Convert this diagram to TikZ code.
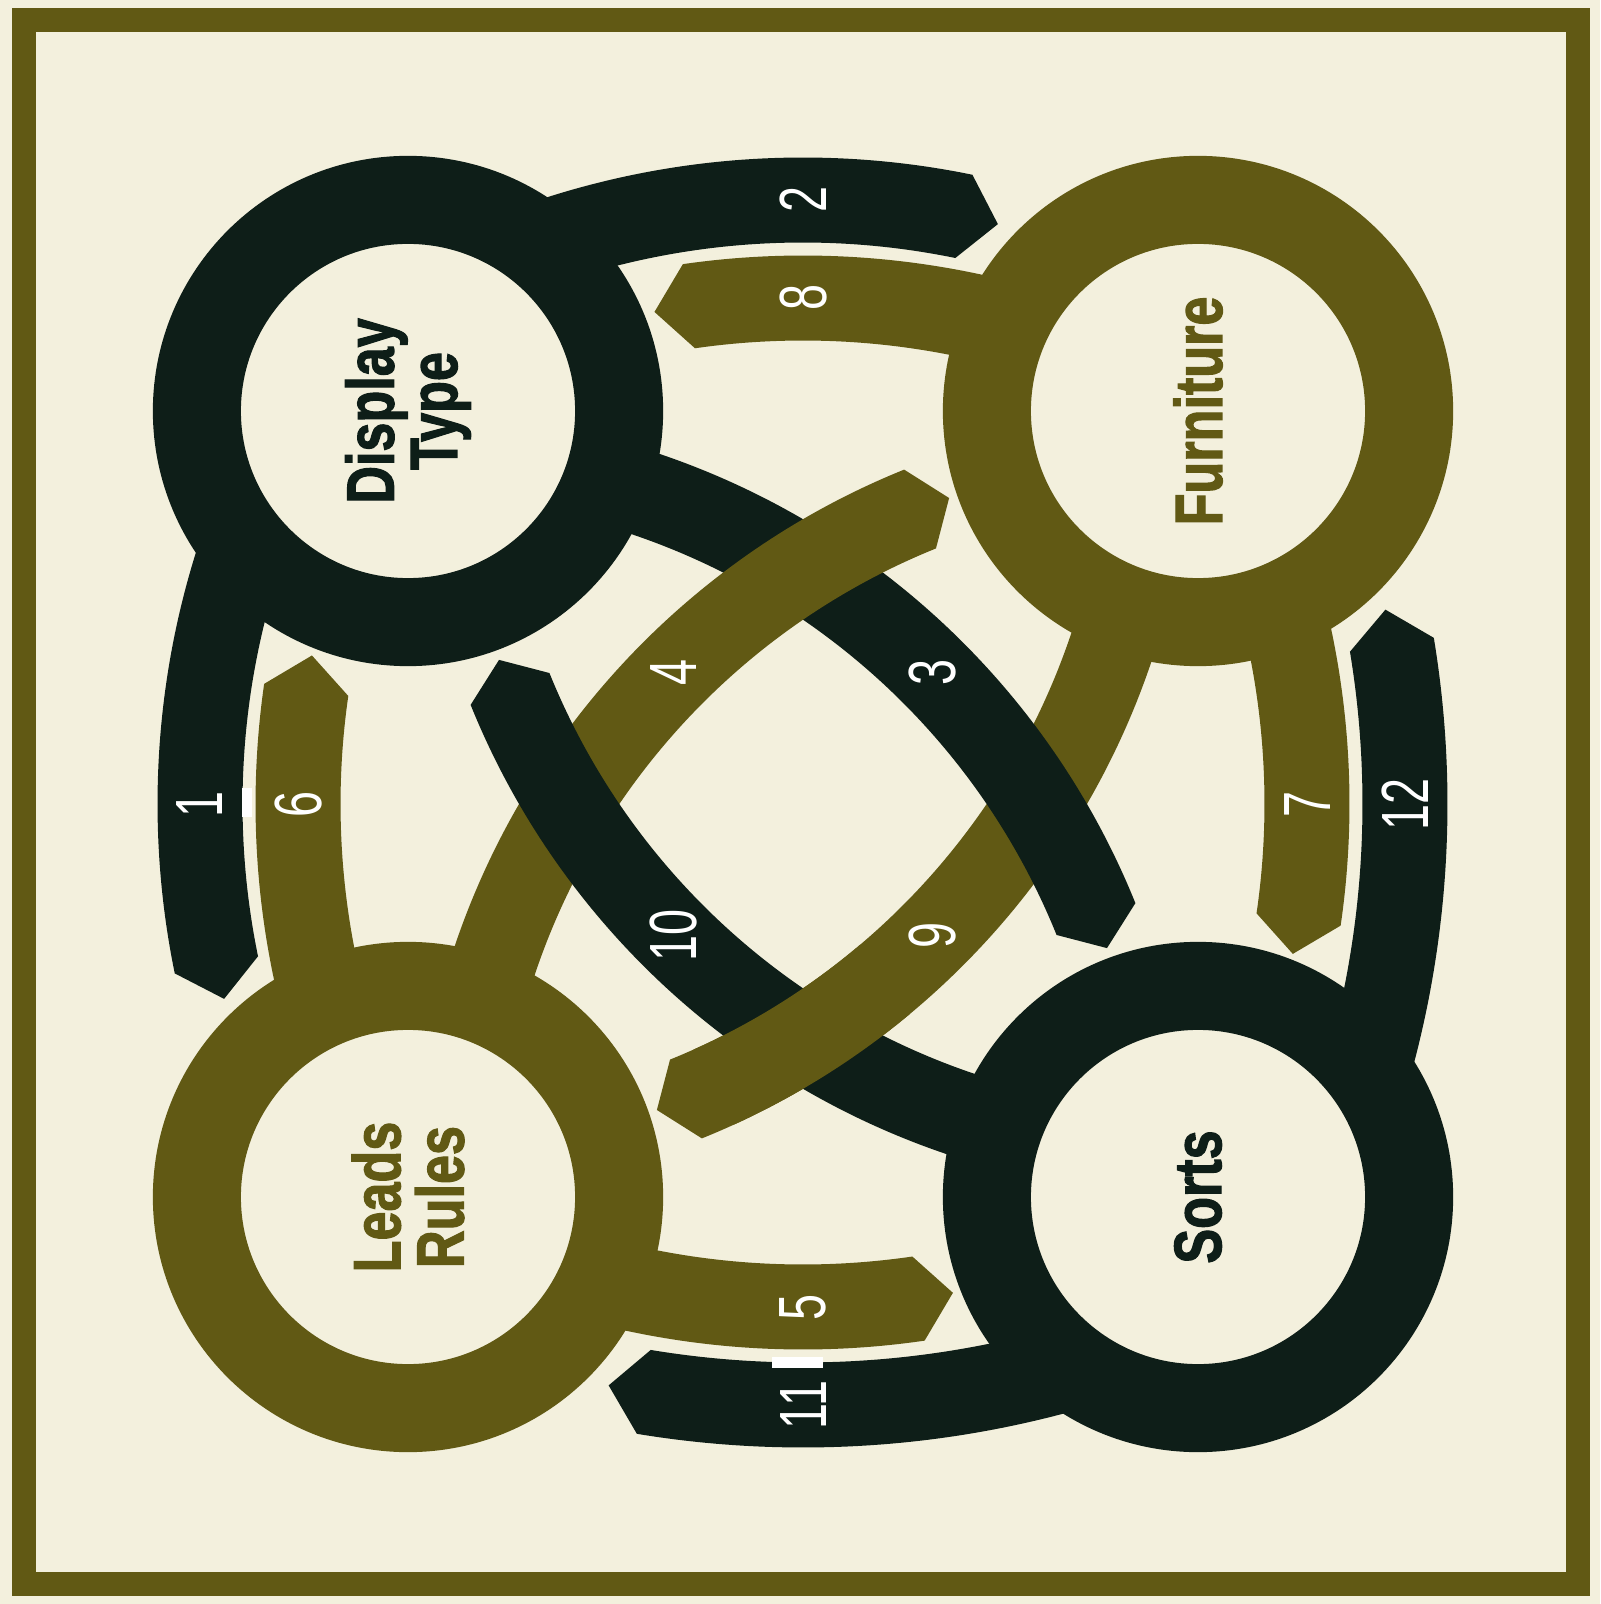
\documentclass[tikz,border=0pt]{standalone}
\usepackage{fontspec}
\usepackage{xcolor}
\usepackage{tikz}
\setmainfont{Liberation Sans}
\newfontfamily\tagfont{Liberation Sans}[BoldFeatures={FakeBold=2}]
\definecolor{paper}{RGB}{243,240,221}
\definecolor{ink}{RGB}{14,30,24}
\definecolor{moss}{RGB}{97,89,20}

\tikzset{
  ring/.style={circle, draw=#1, fill=paper, line width=0.88cm, minimum size=4.22cm, inner sep=0pt},
  tag/.style={text=#1, align=center, inner sep=0pt, rotate=90, xscale=0.78,
    font=\tagfont\bfseries\fontsize{19}{18}\selectfont},
  num/.style={text=white, inner sep=0pt, rotate=90, xscale=0.7, font=\fontsize{19}{19}\selectfont},
}

% #1 colour, #2 centre, #3 radius, #4 start, #5 end, #6 tip
\newcommand{\band}[6]{%
  \begin{scope}[shift={(#2)}]
    \fill[#1] (#4:#3+42.5) arc[start angle=#4, end angle=#5, radius=#3+42.5]
      -- (#6:#3) -- (#5:#3-42.5) arc[start angle=#5, end angle=#4, radius=#3-42.5] -- cycle;
  \end{scope}}

\begin{document}
\begin{tikzpicture}[x=0.01cm, y=0.01cm]
            \useasboundingbox (0,0) rectangle (1600,-1604);
            \fill[paper] (0,0) rectangle (1600,-1604);
            \draw[moss, line width=0.24cm] (24,-20) rectangle (1578,-1584); %frame

            \coordinate (D) at (408,-411);   %display type
            \coordinate (F) at (1198,-411);  %furniture
            \coordinate (L) at (408,-1197);  %leads rules
            \coordinate (S) at (1198,-1197); %sorts

            \coordinate (c1) at (1000,-804);
            \coordinate (c6) at (1098,-804);
            \coordinate (c2) at (803,-1000);
            \coordinate (c8) at (803,-1098);
            \coordinate (c7) at (507,-804);
            \coordinate (c12) at (430,-804);
            \coordinate (c5) at (803,-507);
            \coordinate (c11) at (803,-430);

            % outer bands
            \band{ink}{c1}{800}{-199}{-168.4}{-165.9}
            \band{ink}{c2}{800}{109}{78.4}{75.9}
            \band{moss}{c6}{800}{-165}{-188.2}{-190.7}
            \band{moss}{c8}{800}{75}{98.2}{100.7}
            \band{moss}{c7}{800}{14}{-8.3}{-10.8}
            \band{moss}{c5}{800}{-104}{-81.7}{-79.2}
            \band{ink}{c12}{975}{-17}{9.4}{11.5}
            \band{ink}{c11}{975}{-73}{-99.4}{-101.5}

            % inner bands, woven
            \band{moss}{D}{742}{-15}{-68}{-70.4}      %9
            \band{ink}{L}{742}{75}{22}{19.6}          %3
            \band{moss}{S}{742}{-195}{-248}{-250.4}   %4
            \band{ink}{F}{742}{-105}{-158}{-160.4}    %10
            \begin{scope}
              \clip (803,-1039) circle[radius=110];
              \band{moss}{D}{742}{-15}{-68}{-70.4}    %9 over 10
            \end{scope}

            \fill[white] (242,-788) rectangle (252,-817);
            \fill[white] (772,-1357) rectangle (823,-1368);

            \node[ring=ink] (disp) at (D) {};
            \node[ring=moss] (furn) at (F) {};
            \node[ring=moss] (lead) at (L) {};
            \node[ring=ink] (sort) at (S) {};
            \node[tag=ink] (disptag) at (D) {Display\\Type};
            \node[tag=moss] (furntag) at (F) {Furniture};
            \node[tag=moss] (leadtag) at (L) {Leads\\Rules};
            \node[tag=ink] (sorttag) at (S) {Sorts};

            \path (c1) ++(180:800) node[num] (n1) {1};
            \path (c2) ++(90:800) node[num] (n2) {2};
            \path (L) ++(45:742) node[num] (n3) {3};
            \path (S) ++(135:742) node[num] (n4) {4};
            \path (c5) ++(-90:800) node[num] (n5) {5};
            \path (c6) ++(180:800) node[num] (n6) {6};
            \path (c7) ++(0:800) node[num] (n7) {7};
            \path (c8) ++(90:800) node[num] (n8) {8};
            \path (D) ++(-45:742) node[num] (n9) {9};
            \path (F) ++(-135:742) node[num] (n10) {10};
            \path (c11) ++(-90:975) node[num] (n11) {11};
            \path (c12) ++(0:975) node[num] (n12) {12};

\end{tikzpicture}
\end{document}
